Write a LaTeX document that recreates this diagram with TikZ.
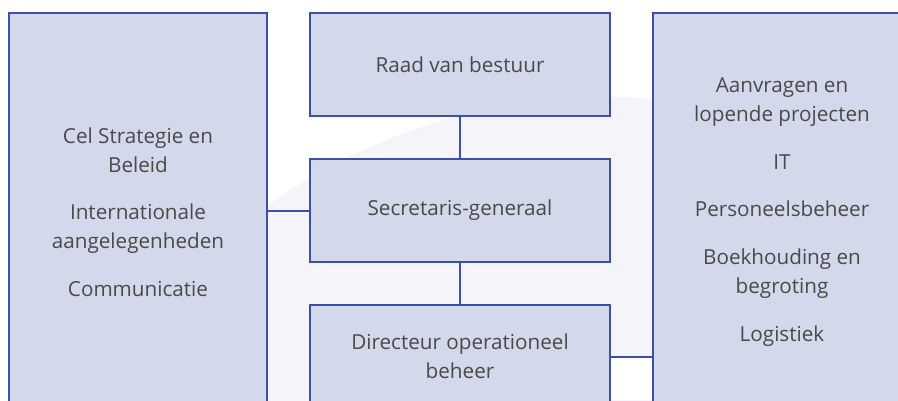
\documentclass[tikz,border=0pt]{standalone}
\usepackage{fontspec}
\setmainfont{Open Sans}
\definecolor{boxfill}{HTML}{D3D8EA}
\definecolor{boxline}{HTML}{3D4FA8}
\definecolor{bgshape}{HTML}{F4F4F9}
\definecolor{txt}{HTML}{4A4A4A}
\begin{document}
\begin{tikzpicture}[x=0.75pt,y=-0.75pt,
  orgbox/.style={draw=boxline,fill=boxfill,line width=1.5pt,rectangle,inner sep=0pt,
    text=txt,align=center,font=\fontsize{15.5}{21.75}\selectfont},
  midbox/.style={orgbox,minimum width=225pt,minimum height=77.25pt},
  sidebox/.style={orgbox,minimum width=193.5pt,minimum height=298.5pt},
  link/.style={draw=boxline,line width=1.5pt}]
\useasboundingbox (0,0) rectangle (898,400);
\clip (0,0) rectangle (898,400);
\fill[white] (0,0) rectangle (898,400);
\fill[bgshape] (607,681) circle[radius=438pt];
\fill[white] (610,358) rectangle (653,400);
\node[sidebox] (left) at (138,212) {Cel Strategie en\\Beleid\\[14pt]Internationale\\aangelegenheden\\[14pt]Communicatie};
\node[sidebox] (right) at (782,212) {Aanvragen en\\lopende projecten\\[14pt]IT\\[14pt]Personeelsbeheer\\[14pt]Boekhouding en\\begroting\\[14pt]Logistiek};
\node[midbox] (raad) at (460,64.5) {Raad van bestuur};
\node[midbox] (secr) at (460,210.5) {Secretaris-generaal};
\node[midbox] (dir) at (460,356.5) {Directeur operationeel\\beheer};
\draw[link] (raad) -- (secr);
\draw[link] (secr) -- (dir);
\draw[link] (left.east |- secr.west) -- (secr.west);
\draw[link] (dir.east) -- (dir.east -| right.west);
\end{tikzpicture}
\end{document}
